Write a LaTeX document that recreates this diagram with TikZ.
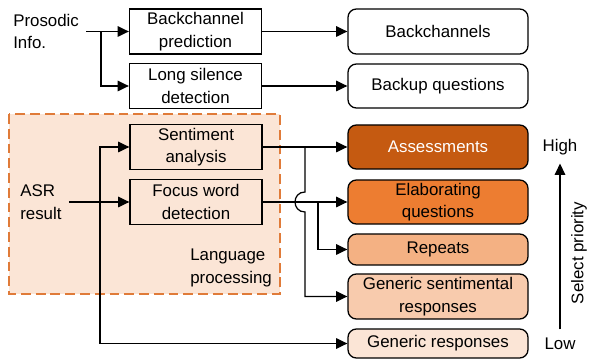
\documentclass[tikz,border=0pt]{standalone}
\usepackage{fontspec}
\setmainfont{Liberation Sans}
\usetikzlibrary{arrows.meta}
\definecolor{prioA}{HTML}{C55A11}
\definecolor{prioB}{HTML}{ED7D31}
\definecolor{prioC}{HTML}{F4B183}
\definecolor{prioD}{HTML}{F8CBAD}
\definecolor{prioE}{HTML}{FBE5D6}
\definecolor{langline}{HTML}{E07B39}

\begin{document}
\begin{tikzpicture}[x=0.025cm,y=-0.025cm,
  font=\fontsize{12}{16}\selectfont,
  box/.style={draw,line width=0.9pt,minimum width=3.3cm,minimum height=1.125cm,inner sep=0pt,align=center},
  resp/.style={draw,line width=0.9pt,rounded corners=6pt,minimum width=4.5cm,inner sep=0pt,align=center},
  arr/.style={line width=0.9pt,-{Triangle[length=8pt,width=7.5pt]}},
  lbl/.style={align=left,inner sep=0pt}]
\useasboundingbox (0,0) rectangle (590,359);
\draw[draw=langline,fill=prioE,line width=0.9pt,dash pattern=on 7pt off 3.5pt] (9,114) rectangle (280,294);
\node[lbl,anchor=west] (lang) at (190,268) {Language\\processing};
\node[lbl,anchor=west] (pros) at (13,31.5) {Prosodic\\Info.};
\node[lbl,anchor=west] (asr) at (20,202) {ASR\\result};
\node[box] (bp) at (195.5,31.5) {Backchannel\\prediction};
\node[box] (ls) at (195.5,86) {Long silence\\detection};
\node[box] (sa) at (196,147) {Sentiment\\analysis};
\node[box] (fw) at (196,202) {Focus word\\detection};
\node[resp,minimum height=1.125cm] (bc) at (438,31.5) {Backchannels};
\node[resp,minimum height=1.1cm] (bq) at (438,86) {Backup questions};
\node[resp,minimum height=1.1cm,fill=prioA,text=white] (as) at (438,147) {Assessments};
\node[resp,minimum height=1.1cm,fill=prioB] (eq) at (438,202) {Elaborating\\questions};
\node[resp,minimum height=0.775cm,fill=prioC] (rp) at (438,249.5) {Repeats};
\node[resp,minimum height=1.125cm,fill=prioD] (gs) at (438,296.5) {Generic sentimental\\responses};
\node[resp,minimum height=0.725cm,fill=prioE] (gr) at (438,343.5) {Generic responses};
\node[inner sep=0pt] (high) at (560,147) {High};
\node[inner sep=0pt] (low) at (560,344) {Low};
\node[inner sep=0pt,rotate=90] (sel) at (579,253) {Select priority};
\draw[arr] ([xshift=5pt]pros.east) -- (bp.west);
\draw[arr] (bp.west -| 101,0) |- (ls.west);
\draw[arr] (bp.east) -- (bc.west);
\draw[arr] (ls.east) -- (bq.west);
\draw[arr] ([xshift=5pt]asr.east) -- (fw.west);
\draw[arr] (fw.west -| 100,0) |- (sa.west);
\draw[arr] (fw.west -| 100,0) |- (gr.west);
\draw[arr] (sa.east) -- (as.west);
\draw[arr] (sa.east -| 305,0) -- (305,192) .. controls (291.7,192) and (291.7,212) .. (305,212) |- (gs.west);
\draw[arr] (fw.east) -- (eq.west);
\draw[arr] (fw.east -| 318,0) |- (rp.west);
\draw[arr] ([yshift=6pt]low.north) -- ([yshift=-6pt]high.south);
\end{tikzpicture}
\end{document}
